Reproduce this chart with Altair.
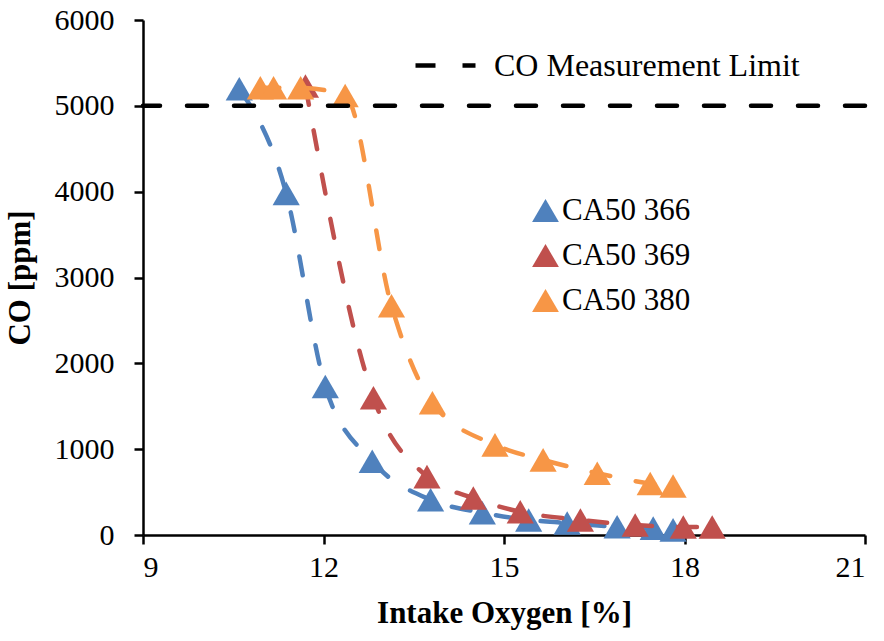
import altair as alt
import pandas as pd

# CO emissions vs intake oxygen for three CA50 timings
series_names = ["CA50 366", "CA50 369", "CA50 380"]
series_colors = ["#4F81BD", "#C0504D", "#F79646"]

o2_366 = [10.6, 11.38, 12.03, 12.81, 13.78, 14.64, 15.41, 16.05, 16.88, 17.48, 17.81]
co_366 = [5200, 3980, 1730, 860, 410, 260, 175, 140, 95, 80, 60]

o2_369 = [11.7, 12.83, 13.72, 14.49, 15.27, 16.27, 17.18, 17.98, 18.46]
co_369 = [5230, 1600, 680, 430, 270, 175, 117, 93, 93]

o2_380 = [10.95, 11.17, 11.62, 12.36, 13.13, 13.81, 14.85, 15.65, 16.55, 17.43, 17.81]
co_380 = [5210, 5210, 5210, 5120, 2670, 1540, 1050, 875, 720, 600, 570]

limit_label = "CO Measurement Limit"
co_limit = 5000

x_ticks = [9, 12, 15, 18, 21]
y_ticks = [0, 1000, 2000, 3000, 4000, 5000, 6000]

FONT = "Liberation Serif"

frames = []
for name, xs, ys in [(series_names[0], o2_366, co_366),
                     (series_names[1], o2_369, co_369),
                     (series_names[2], o2_380, co_380)]:
    frames.append(pd.DataFrame({"o2": xs, "co": ys, "series": name}))
df = pd.concat(frames, ignore_index=True)

limit_df = pd.DataFrame({"co": [co_limit], "label": [limit_label]})

x_enc = alt.X("o2:Q", scale=alt.Scale(domain=[9, 21], nice=False),
              axis=alt.Axis(values=x_ticks, title="Intake Oxygen [%]", format="d",
                            labelFont=FONT, titleFont=FONT))
y_enc = alt.Y("co:Q", scale=alt.Scale(domain=[0, 6000], nice=False),
              axis=alt.Axis(values=y_ticks, title="CO [ppm]", format="d",
                            labelFont=FONT, titleFont=FONT))
color_scale = alt.Scale(domain=series_names, range=series_colors)

series_legend = alt.Legend(
    title=None, orient="none", legendX=387, legendY=175,
    symbolType="triangle-up", symbolSize=720, symbolOpacity=1,
    labelFont=FONT, labelFontSize=31, labelColor="black", labelLimit=0,
    rowPadding=13, labelOffset=1, symbolStrokeWidth=0
)

layers = []
for i, name in enumerate(series_names):
    sub = alt.Chart(df).transform_filter(alt.datum.series == name)
    line = sub.mark_line(
        interpolate="monotone", strokeWidth=4.5, strokeDash=[19, 26],
        strokeCap="round", color=series_colors[i]
    ).encode(x=x_enc, y=y_enc)
    pts = sub.mark_point(
        shape="triangle-up", filled=True, size=740, opacity=1
    ).encode(
        x=x_enc, y=y_enc,
        color=alt.Color("series:N", scale=color_scale, legend=series_legend)
    )
    layers += [line, pts]

limit = alt.Chart(limit_df).mark_rule(
    color="black", strokeWidth=4.5, strokeCap="round"
).encode(
    y=alt.Y("co:Q", scale=alt.Scale(domain=[0, 6000], nice=False)),
    strokeDash=alt.StrokeDash(
        "label:N",
        scale=alt.Scale(domain=[limit_label], range=[[20, 27]]),
        legend=alt.Legend(
            title=None, orient="none", legendX=270, legendY=13,
            symbolType="stroke", symbolSize=3600, symbolStrokeWidth=4.5,
            symbolStrokeColor="black", symbolDash=[20, 17],
            labelFont=FONT, labelFontSize=32, labelColor="black",
            labelLimit=0, labelOffset=16
        )
    )
)

label_style = {"font": FONT, "fill": "black"}

chart = alt.layer(*layers, limit).properties(
    width=722, height=515,
    autosize=alt.AutoSizeParams(type="none"),
    padding={"left": 143, "top": 20, "right": 19, "bottom": 106},
).configure(
    font=FONT, style={"guide-label": label_style, "guide-title": label_style}
).configure_view(stroke=None).configure_axis(
    grid=False, domainColor="black", domainWidth=2.5,
    tickColor="black", tickWidth=2.5, tickSize=9,
    labelFont=FONT, labelFontSize=30, labelColor="black",
    titleFont=FONT, titleFontSize=31, titleFontWeight="bold", titleColor="black",
).configure_axisX(
    labelPadding=8, titlePadding=16
).configure_axisY(
    labelPadding=20, titlePadding=18
)

chart.save("out.html", embed_options={"renderer": "svg", "actions": False})
